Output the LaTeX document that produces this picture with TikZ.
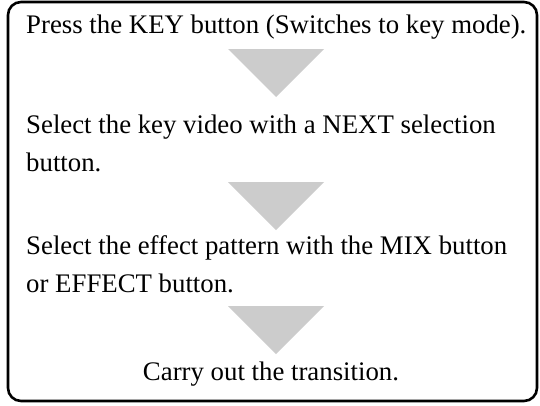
\documentclass[tikz,border=0pt]{standalone}
\usepackage{fontspec}
\setmainfont{Liberation Serif}
\definecolor{arrowgray}{HTML}{CCCCCC}
\begin{document}
\begin{tikzpicture}[x=1pt,y=-1pt,
  frame/.style={draw=black,line width=2.6pt,rounded corners=13pt},
  steptext/.style={inner sep=0pt,align=left,anchor=base west,
    font=\fontsize{26.8}{38}\selectfont},
  downarrow/.style={fill=arrowgray}]
\useasboundingbox (0,0) rectangle (540,405);
\draw[frame] (8,2) rectangle (537,401);
\node[steptext] (s1) at (26,33) {Press the KEY button (Switches to key mode).};
\node[steptext] (s2) at (26,171) {Select the key video with a NEXT selection\\button.};
\node[steptext] (s3) at (26,292) {Select the effect pattern with the MIX button\\or EFFECT button.};
\node[steptext,anchor=base] (s4) at (271,380) {Carry out the transition.};
\fill[downarrow] (228,49) -- (324,49) -- (276,97) -- cycle;
\fill[downarrow] (228,182) -- (324,182) -- (276,230) -- cycle;
\fill[downarrow] (228,306) -- (324,306) -- (276,354) -- cycle;
\end{tikzpicture}
\end{document}
